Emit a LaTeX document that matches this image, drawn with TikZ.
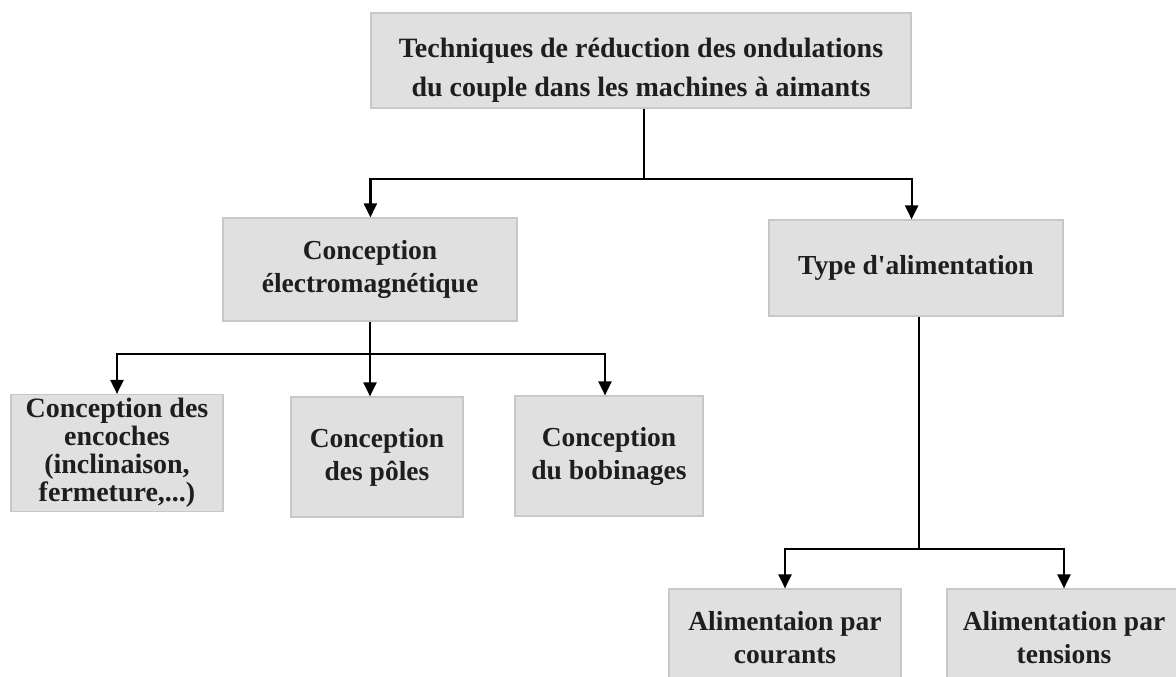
\documentclass[tikz,border=0pt]{standalone}
\usepackage{fontspec}
\setmainfont{Liberation Serif}
\usetikzlibrary{arrows.meta,calc}
\definecolor{boxfill}{RGB}{224,224,224}
\definecolor{boxline}{RGB}{200,200,200}
\definecolor{ink}{RGB}{30,30,30}
\tikzset{
  box/.style={draw=boxline, line width=1.2pt, fill=boxfill, inner sep=0pt,
    align=center, text=ink, font=\bfseries\fontsize{27.5}{33}\selectfont},
  link/.style={line width=2.2pt},
  arr/.style={link, -{Triangle[length=14pt,width=13pt]}},
}
\begin{document}
\begin{tikzpicture}[x=1pt,y=-1pt]
\useasboundingbox (0,0) rectangle (1176,677);
% level 0
\node[box, minimum width=540, minimum height=95] (top) at (641,60.5) {};
\node[align=center, text=ink, inner sep=0pt,
  font=\bfseries\fontsize{28}{39}\selectfont] (toptext) at (641,70)
  {Techniques de réduction des ondulations\\du couple dans les machines à aimants};
% level 1
\node[box, minimum width=294, minimum height=103] (em) at (370,269.5)
  {Conception\\électromagnétique};
\node[box, minimum width=294, minimum height=96] (ali) at (916,268)
  {Type d\textquotesingle alimentation};
% level 2, design branch
\node[box, minimum width=212, minimum height=117,
  font=\bfseries\fontsize{28}{28}\selectfont] (enc) at (117,453)
  {Conception des\\encoches\\(inclinaison,\\fermeture,...)};
\node[box, minimum width=172, minimum height=120] (pol) at (377,457)
  {Conception\\des pôles};
\node[box, minimum width=188, minimum height=120] (bob) at (609,456)
  {Conception\\du bobinages};
% level 2, supply branch
\node[box, minimum width=232, minimum height=98] (cou) at (785,638)
  {Alimentaion par\\courants};
\node[box, minimum width=234, minimum height=98] (ten) at (1064,638)
  {Alimentation par\\tensions};
% connectors: root to level 1
\coordinate (j0) at ($(top.south)+(3,70)$);
\draw[link] ([xshift=3pt]top.south) -- (j0);
\draw[arr] (j0) -| (top.west |- em.north);
\draw[arr] (j0) -| (top.east |- ali.north);
% design branch
\coordinate (j1) at ($(em.south)+(0,32)$);
\draw[arr] (em.south) -- (em.south |- pol.north);
\draw[arr] (j1) -| (enc.north);
\draw[arr] (j1) -| ([xshift=-4pt]bob.north);
% supply branch
\coordinate (j2) at ($(ali.south)+(3,232)$);
\draw[link] ([xshift=3pt]ali.south) -- (j2);
\draw[arr] (j2) -| (cou.north);
\draw[arr] (j2) -| (ten.north);
\end{tikzpicture}
\end{document}
